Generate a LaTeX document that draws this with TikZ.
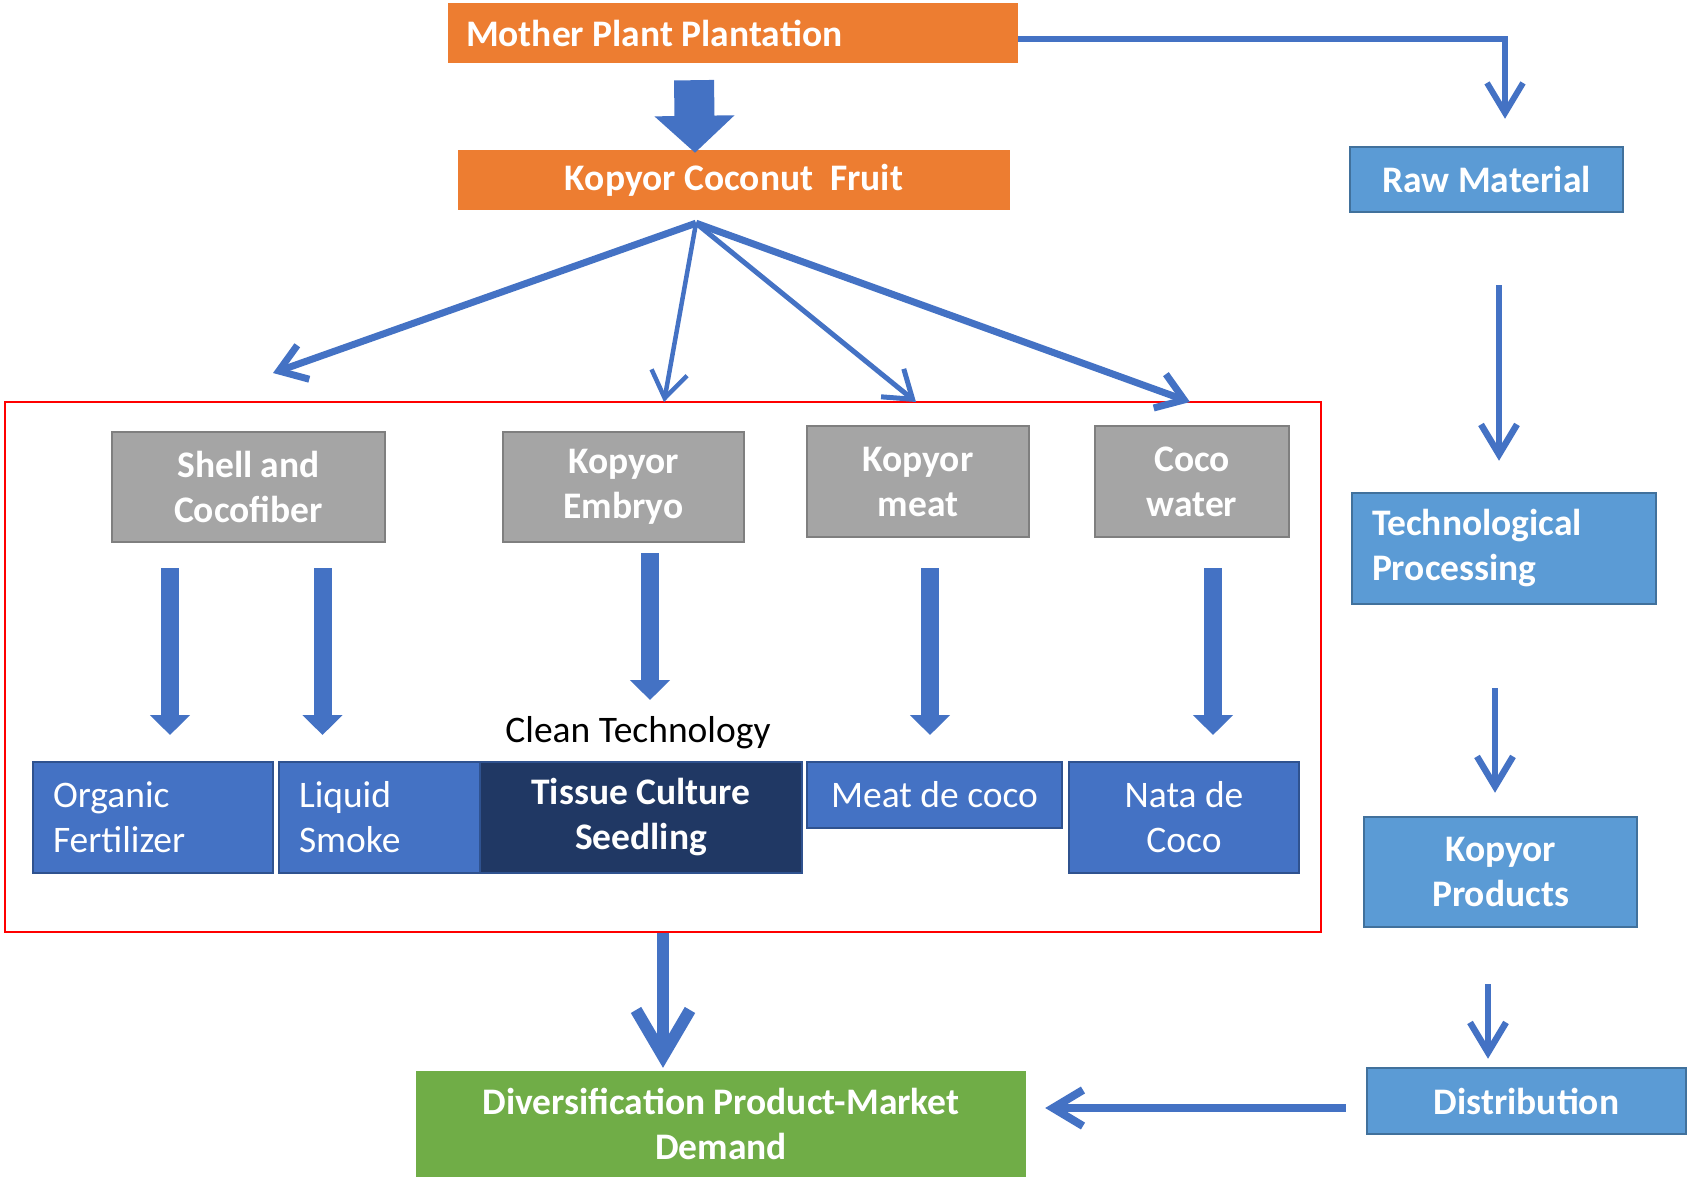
\documentclass[tikz,border=0pt]{standalone}
\usepackage{fontspec}
\setmainfont{Carlito}
\usepackage{xcolor}
\usepackage{tikz}
\usetikzlibrary{arrows.meta}
\definecolor{kOrange}{HTML}{ED7D31}
\definecolor{kBlue}{HTML}{4472C4}
\definecolor{kBlueLine}{HTML}{2F528F}
\definecolor{kLight}{HTML}{5B9BD5}
\definecolor{kLightLine}{HTML}{41719C}
\definecolor{kGrey}{HTML}{A5A5A5}
\definecolor{kGreyLine}{HTML}{7F7F7F}
\definecolor{kNavy}{HTML}{203864}
\definecolor{kGreen}{HTML}{70AD47}
\tikzset{
	every node/.style = {font=\fontsize{37.5}{45}\selectfont, inner sep=0},
	orangebox/.style = {rectangle, fill=kOrange, text=white, font=\fontsize{37.5}{45}\selectfont\bfseries},
	greybox/.style = {rectangle, fill=kGrey, draw=kGreyLine, line width=2.5pt, text=white, align=flush center, font=\fontsize{37.5}{45}\selectfont\bfseries},
	lightbox/.style = {rectangle, fill=kLight, draw=kLightLine, line width=2.5pt, text=white, align=flush center, font=\fontsize{37.5}{45}\selectfont\bfseries},
	bluebox/.style = {rectangle, fill=kBlue, draw=kBlueLine, line width=2pt, text=white, align=flush center},
	navybox/.style = {bluebox, fill=kNavy, font=\fontsize{37.5}{45}\selectfont\bfseries},
	greenbox/.style = {rectangle, fill=kGreen, text=white, align=flush center, font=\fontsize{37.5}{45}\selectfont\bfseries},
	thinarrow/.style = {draw=kBlue, line width=6.5pt, -{Straight Barb[length=30pt, width=36pt]}},
	fanarrow/.style = {draw=kBlue, line width=6pt, -{Straight Barb[length=26pt, width=36pt]}},
	bigarrow/.style = {draw=kBlue, line width=12pt, -{Straight Barb[length=46pt, width=54pt]}},
	blockarrow/.style = {draw=kBlue, line width=18pt, -{Triangle[length=20pt, width=39pt]}}
}
\begin{document}
\begin{tikzpicture}[x=1pt, y=-1pt]
	\useasboundingbox (0,0) rectangle (1691,1181);
	\node[orangebox, minimum width=570pt, minimum height=60pt, text width=534pt, align=flush left] (mother) at (733,33) {Mother Plant Plantation};
	\node[orangebox, minimum width=552pt, minimum height=60pt, align=flush center] (fruit) at (734,180) {Kopyor Coconut\ \ Fruit};
	\node[lightbox, minimum width=273pt, minimum height=65pt] (raw) at (1486.5,179.5) {Raw Material};
	\node[lightbox, minimum width=304pt, minimum height=111pt, text width=264pt, align=flush left] (tech) at (1504,548.5) {Technological\\Processing};
	\node[lightbox, minimum width=273pt, minimum height=110pt] (products) at (1500.5,872) {Kopyor\\Products};
	\node[lightbox, minimum width=319pt, minimum height=66pt] (distribution) at (1526.5,1101) {Distribution};
	\node[greenbox, minimum width=610pt, minimum height=106pt] (market) at (721,1124) {Diversification Product-Market\\Demand};
	
	\node[draw=red, line width=2pt, minimum width=1316pt, minimum height=530pt] (frame) at (663,667) {};
	\node[greybox, minimum width=273pt, minimum height=110pt] (shell) at (248.5,487) {Shell and\\Cocofiber};
	\node[greybox, minimum width=241pt, minimum height=110pt] (embryo) at (623.5,487) {Kopyor\\Embryo};
	\node[greybox, minimum width=222pt, minimum height=111pt] (meat) at (918,481.5) {Kopyor\\meat};
	\node[greybox, minimum width=194pt, minimum height=111pt] (water) at (1192,481.5) {Coco\\water};
	
	\node[bluebox, minimum width=240pt, minimum height=111pt, text width=200pt, align=flush left] (fertilizer) at (153,817.5) {Organic\\Fertilizer};
	\node[bluebox, minimum width=201pt, minimum height=111pt, text width=161pt, align=flush left] (smoke) at (379.5,817.5) {Liquid\\Smoke};
	\node[navybox, minimum width=322pt, minimum height=111pt] (seedling) at (641,817.5) {Tissue Culture\\Seedling};
	\node[bluebox, minimum width=255pt, minimum height=66pt] (meatcoco) at (934.5,795) {Meat de coco};
	\node[bluebox, minimum width=230pt, minimum height=111pt] (nata) at (1184,817.5) {Nata de\\Coco};
	\node (cleantech) at (638,733) {Clean Technology};
	
	\coordinate (fan) at ([xshift=-38pt, yshift=-13pt]fruit.south);
	\coordinate (fanshell) at (273,373);
	\coordinate (fanembryo) at (664,402);
	\coordinate (fanmeat) at (916,402);
	\coordinate (fanwater) at (1190,402);
	
	\draw[blockarrow, line width=40pt, -{Triangle[length=37pt, width=78pt]}] ([xshift=-39pt, yshift=-17pt]mother.south) -- ([xshift=-39pt, yshift=-3pt]fruit.north);
	\draw[fanarrow, line width=7pt] (fan) -- (fanshell);
	\draw[fanarrow, line width=4.5pt] (fan) -- (fanembryo);
	\draw[fanarrow, line width=5pt] (fan) -- (fanmeat);
	\draw[fanarrow, line width=7pt] (fan) -- (fanwater);
	
	\draw[blockarrow] ([xshift=-78.5pt, yshift=-25pt]shell.south) -- ([xshift=17pt, yshift=26pt]fertilizer.north);
	\draw[blockarrow] ([xshift=74pt, yshift=-25pt]shell.south) -- ([xshift=-57pt, yshift=26pt]smoke.north);
	\draw[blockarrow] ([xshift=26.5pt, yshift=-10pt]embryo.south) -- ([xshift=9pt, yshift=61pt]seedling.north);
	\draw[blockarrow] ([xshift=12pt, yshift=-30pt]meat.south) -- ([xshift=-4.5pt, yshift=26pt]meatcoco.north);
	\draw[blockarrow] ([xshift=21pt, yshift=-30pt]water.south) -- ([xshift=29pt, yshift=26pt]nata.north);
	
	\draw[thinarrow, line width=6pt] ([yshift=-6pt]mother.east) -| ([xshift=18.5pt, yshift=27pt]raw.north);
	\draw[thinarrow] ([xshift=12.5pt, yshift=-72pt]raw.south) -- ([xshift=-5pt, yshift=31pt]tech.north);
	\draw[thinarrow] ([xshift=-9pt, yshift=-83pt]tech.south) -- ([xshift=-5.5pt, yshift=23pt]products.north);
	\draw[thinarrow] ([xshift=-12.5pt, yshift=-56pt]products.south) -- ([xshift=-38.5pt, yshift=8pt]distribution.north);
	\draw[thinarrow, line width=8pt] ([xshift=-20pt, yshift=-7pt]distribution.west) -- ([xshift=19pt, yshift=16pt]market.east);
	\draw[bigarrow] (frame.south) -- ([xshift=-58pt, yshift=3pt]market.north);
\end{tikzpicture}
\end{document}
